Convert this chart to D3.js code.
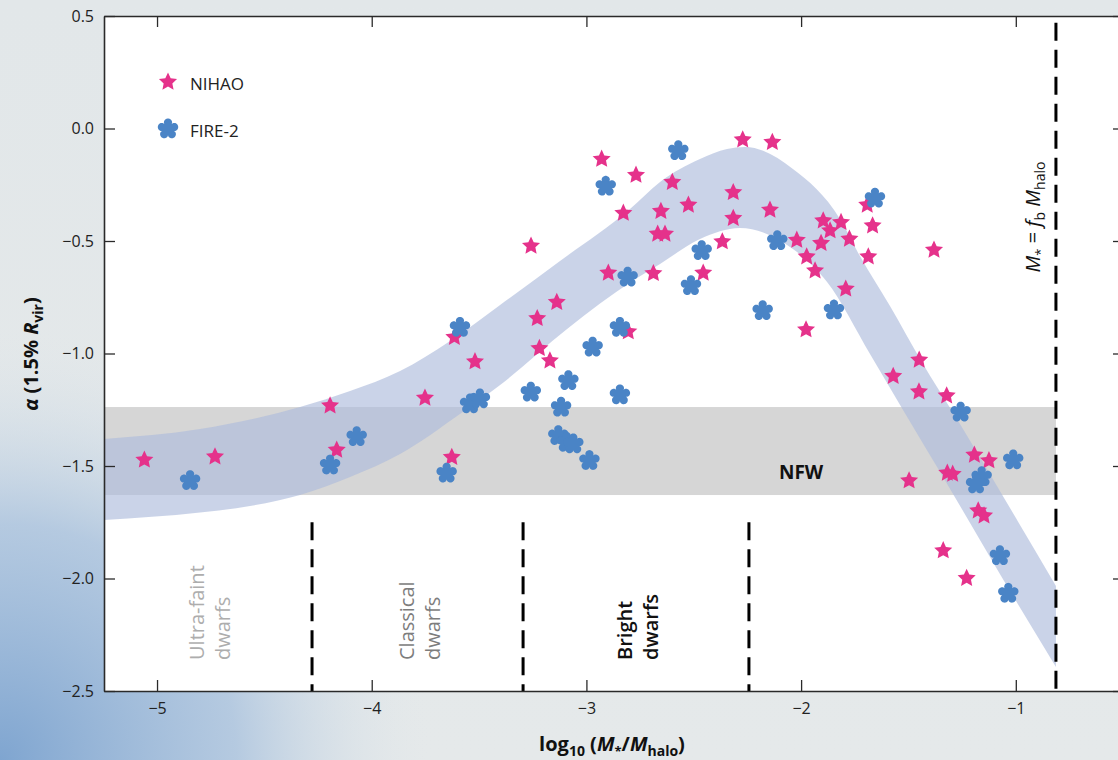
<!DOCTYPE html>
<html>
<head>
<meta charset="utf-8">
<script src="https://cdn.jsdelivr.net/npm/d3@7"></script>
<style>
  html, body { margin: 0; padding: 0; }
  body { width: 1118px; height: 760px; overflow: hidden; font-family: "Open Sans", sans-serif; }
</style>
</head>
<body>
<div id="chart"></div>
<script>
// data
const nihaoX = [-5.059, -4.730, -4.194, -4.163, -3.752, -3.615, -3.627, -3.519, -3.258, -3.229,
  -3.219, -3.170, -3.138, -2.929, -2.898, -2.828, -2.805, -2.769, -2.688, -2.668,
  -2.634, -2.653, -2.600, -2.525, -2.456, -2.367, -2.316, -2.316, -2.272, -2.134,
  -2.145, -2.020, -1.977, -1.974, -1.935, -1.907, -1.897, -1.865, -1.814, -1.775,
  -1.792, -1.692, -1.667, -1.687, -1.381, -1.571, -1.450, -1.451, -1.322, -1.497,
  -1.319, -1.294, -1.193, -1.125, -1.175, -1.148, -1.338, -1.229];
const nihaoY = [-1.473, -1.459, -1.232, -1.429, -1.198, -0.928, -1.461, -1.036, -0.522, -0.844,
  -0.977, -1.032, -0.772, -0.136, -0.642, -0.376, -0.903, -0.207, -0.644, -0.469,
  -0.469, -0.368, -0.239, -0.340, -0.642, -0.503, -0.399, -0.284, -0.050, -0.061,
  -0.362, -0.496, -0.894, -0.570, -0.632, -0.510, -0.410, -0.454, -0.417, -0.491,
  -0.713, -0.340, -0.432, -0.570, -0.540, -1.101, -1.029, -1.170, -1.188, -1.565,
  -1.531, -1.536, -1.451, -1.476, -1.699, -1.721, -1.876, -1.999];

const fireX = [-4.846, -4.194, -4.070, -3.651, -3.589, -3.542, -3.496, -3.259, -3.131, -3.118,
  -3.092, -3.061, -3.084, -2.986, -2.971, -2.910, -2.844, -2.844, -2.808, -2.572,
  -2.513, -2.463, -2.179, -2.111, -1.847, -1.656, -1.257, -1.159, -1.185, -1.012,
  -1.074, -1.035];
const fireY = [-1.565, -1.496, -1.370, -1.532, -0.884, -1.224, -1.202, -1.172, -1.365, -1.239,
  -1.395, -1.402, -1.121, -1.476, -0.972, -0.257, -0.884, -1.184, -0.661, -0.099,
  -0.699, -0.543, -0.810, -0.499, -0.807, -0.310, -1.261, -1.548, -1.580, -1.473,
  -1.899, -2.066];

// shaded trend band
const bandUpperX = [-5.247, -4.800, -4.334, -4.101, -3.868, -3.635, -3.402, -3.123, -2.797, -2.657,
  -2.471, -2.345, -2.261, -2.038, -1.819, -1.726, -1.586, -1.446, -1.260, -1.074, -0.813];
const bandUpperY = [-1.380, -1.336, -1.238, -1.167, -1.078, -0.944, -0.784, -0.589, -0.358, -0.238,
  -0.136, -0.091, -0.082, -0.180, -0.402, -0.567, -0.789, -1.024, -1.313, -1.611, -2.033];
const bandLowerX = [-5.247, -4.800, -4.567, -4.334, -4.101, -3.868, -3.589, -3.402, -3.090, -2.783,
  -2.657, -2.471, -2.285, -2.038, -1.879, -1.679, -1.539, -1.306, -1.074, -0.813];
const bandLowerY = [-1.740, -1.707, -1.678, -1.629, -1.549, -1.447, -1.269, -1.140, -0.891, -0.676,
  -0.602, -0.491, -0.442, -0.536, -0.682, -1.002, -1.229, -1.602, -1.980, -2.393];

const nfwRange = [-1.238, -1.629];
const regionBounds = [-4.278, -3.295, -2.243];
const fbLineX = -0.813;
const regionNames = [['Ultra-faint', 'dwarfs'], ['Classical', 'dwarfs'], ['Bright', 'dwarfs']];
const regionColors = ['#adadad', '#7d7d7d', '#111'];

const xTicks = [-5, -4, -3, -2, -1];
const yTicks = [0.5, 0.0, -0.5, -1.0, -1.5, -2.0, -2.5];
const xDomain = [-5.247, -0.496];
const yDomain = [-2.5, 0.5];

const width = 1118;
const height = 760;
const plot = { left: 104, right: 1124, top: 16, bottom: 691 };
const pink = '#e5328b';
const blue = '#4a84c6';

const svg = d3.select('#chart').append('svg')
  .attr('width', width)
  .attr('height', height)
  .style('display', 'block');

const defs = svg.append('defs');

// page background: pale grey with a blue wash in the lower left
const bg = defs.append('linearGradient').attr('id', 'bgLin')
  .attr('x1', '0%').attr('y1', '0%').attr('x2', '0%').attr('y2', '100%');
bg.append('stop').attr('offset', '0%').attr('stop-color', '#e2e7e9');
bg.append('stop').attr('offset', '100%').attr('stop-color', '#e5e9ea');

const wash = defs.append('radialGradient').attr('id', 'bgWash')
  .attr('gradientUnits', 'userSpaceOnUse')
  .attr('cx', 0).attr('cy', 760).attr('r', 430);
wash.append('stop').attr('offset', '0%').attr('stop-color', '#7fa5d0').attr('stop-opacity', 1);
wash.append('stop').attr('offset', '55%').attr('stop-color', '#a9c2de').attr('stop-opacity', 0.8);
wash.append('stop').attr('offset', '100%').attr('stop-color', '#dfe6ea').attr('stop-opacity', 0);

svg.append('rect').attr('width', width).attr('height', height).attr('fill', 'url(#bgLin)');
svg.append('rect').attr('width', width).attr('height', height).attr('fill', 'url(#bgWash)');

defs.append('clipPath').attr('id', 'plotClip')
  .append('rect')
  .attr('x', plot.left).attr('y', plot.top)
  .attr('width', plot.right - plot.left).attr('height', plot.bottom - plot.top);

const x = d3.scaleLinear().domain(xDomain).range([plot.left, plot.right]);
const y = d3.scaleLinear().domain(yDomain).range([plot.bottom, plot.top]);

// white plot area
svg.append('rect')
  .attr('x', plot.left).attr('y', plot.top)
  .attr('width', plot.right - plot.left).attr('height', plot.bottom - plot.top)
  .attr('fill', '#fff');

const inner = svg.append('g').attr('clip-path', 'url(#plotClip)');

// NFW band
inner.append('rect')
  .attr('x', plot.left)
  .attr('y', y(nfwRange[0]))
  .attr('width', x(fbLineX) - plot.left)
  .attr('height', y(nfwRange[1]) - y(nfwRange[0]))
  .attr('fill', '#d6d6d6');

// trend band: upper edge left to right, then lower edge back
const bandLine = d3.line()
  .x((d) => x(d[0]))
  .y((d) => y(d[1]))
  .curve(d3.curveMonotoneX);
const upperPts = bandUpperX.map((v, i) => [v, bandUpperY[i]]);
const lowerPts = bandLowerX.map((v, i) => [v, bandLowerY[i]]).reverse();
const bandPath = bandLine(upperPts) + 'L' + bandLine(lowerPts).slice(1) + 'Z';
inner.append('path')
  .attr('d', bandPath)
  .attr('fill', '#aebcdc')
  .attr('fill-opacity', 0.65);

inner.append('text')
  .attr('x', x(-2.0))
  .attr('y', y(-1.5) + 13)
  .attr('text-anchor', 'middle')
  .attr('font-size', 19)
  .attr('font-weight', 'bold')
  .attr('fill', '#111')
  .text('NFW');

// dashed boundaries
regionBounds.forEach((b) => {
  inner.append('line')
    .attr('x1', x(b)).attr('x2', x(b))
    .attr('y1', y(-1.75)).attr('y2', y(-2.5))
    .attr('stroke', '#000')
    .attr('stroke-width', 3)
    .attr('stroke-dasharray', '18,9');
});
inner.append('line')
  .attr('x1', x(fbLineX)).attr('x2', x(fbLineX))
  .attr('y1', y(0.47)).attr('y2', y(-2.5))
  .attr('stroke', '#000')
  .attr('stroke-width', 3)
  .attr('stroke-dasharray', '18,9');

// region labels, rotated, two lines each
const edges = [xDomain[0]].concat(regionBounds);
regionNames.forEach((lines, i) => {
  const cx = x((edges[i] + edges[i + 1]) / 2);
  const t = inner.append('text')
    .attr('transform', `translate(${cx},660) rotate(-90)`)
    .attr('font-size', 20)
    .attr('fill', regionColors[i])
    .attr('font-weight', i === 2 ? 600 : 400);
  lines.forEach((ln, j) => {
    t.append('tspan')
      .attr('x', 0)
      .attr('y', j === 0 ? -4 : 22)
      .text(ln);
  });
});

// M* = fb Mhalo label
const fbText = inner.append('text')
  .attr('transform', `translate(${x(fbLineX) - 16},217) rotate(-90)`)
  .attr('text-anchor', 'middle')
  .attr('font-size', 20)
  .attr('fill', '#111');
fbText.append('tspan').attr('font-style', 'italic').text('M');
fbText.append('tspan').attr('font-size', 13).attr('dy', 5).text('*');
fbText.append('tspan').attr('dy', -5).text(' = ');
fbText.append('tspan').attr('font-style', 'italic').text('f');
fbText.append('tspan').attr('font-size', 14).attr('dy', 5).text('b');
fbText.append('tspan').attr('dy', -5).attr('font-style', 'italic').text(' M');
fbText.append('tspan').attr('font-size', 14).attr('dy', 5).text('halo');

// marker shapes
function starPath(R, k) {
  const pts = [];
  for (let i = 0; i < 10; i++) {
    const a = -Math.PI / 2 + (i * Math.PI) / 5;
    const r = i % 2 === 0 ? R : R * k;
    pts.push([r * Math.cos(a), r * Math.sin(a)]);
  }
  return 'M' + pts.map((p) => p[0].toFixed(2) + ',' + p[1].toFixed(2)).join('L') + 'Z';
}
function flowerPath(R) {
  const pts = [];
  for (let i = 0; i < 120; i++) {
    const t = (i / 120) * 2 * Math.PI;
    const r = R * (0.6 + 0.4 * Math.pow(Math.abs(Math.cos(2.5 * t)), 0.6));
    const a = -Math.PI / 2 + t;
    pts.push([r * Math.cos(a), r * Math.sin(a)]);
  }
  return 'M' + pts.map((p) => p[0].toFixed(2) + ',' + p[1].toFixed(2)).join('L') + 'Z';
}
const pinkShape = starPath(9.5, 0.48);
const blueShape = flowerPath(10.5);

svg.append('g')
  .selectAll('path')
  .data(nihaoX.map((v, i) => [v, nihaoY[i]]))
  .join('path')
  .attr('d', pinkShape)
  .attr('transform', (d) => `translate(${x(d[0])},${y(d[1])})`)
  .attr('fill', pink);

svg.append('g')
  .selectAll('path')
  .data(fireX.map((v, i) => [v, fireY[i]]))
  .join('path')
  .attr('d', blueShape)
  .attr('transform', (d) => `translate(${x(d[0])},${y(d[1])})`)
  .attr('fill', blue);

// axes (ticks inward on all four sides)
const fmt = (d) => (d < 0 ? '\u2212' : '') + Math.abs(d).toFixed(1);
const fmtX = (d) => (d < 0 ? '\u2212' : '') + Math.abs(d);

const leftAxis = svg.append('g')
  .attr('transform', `translate(${plot.left},0)`)
  .call(d3.axisLeft(y).tickValues(yTicks).tickFormat(fmt).tickSize(-11).tickSizeOuter(0).tickPadding(10));
const bottomAxis = svg.append('g')
  .attr('transform', `translate(0,${plot.bottom})`)
  .call(d3.axisBottom(x).tickValues(xTicks).tickFormat(fmtX).tickSize(-11).tickSizeOuter(0).tickPadding(12));
const topAxis = svg.append('g')
  .attr('transform', `translate(0,${plot.top})`)
  .call(d3.axisTop(x).tickValues(xTicks).tickFormat('').tickSize(-11).tickSizeOuter(0));
const rightAxis = svg.append('g')
  .attr('transform', `translate(${plot.right},0)`)
  .call(d3.axisRight(y).tickValues(yTicks).tickFormat('').tickSize(-11).tickSizeOuter(0));

[leftAxis, bottomAxis, topAxis, rightAxis].forEach((g) => {
  g.select('.domain').attr('stroke', '#2a2a2a').attr('stroke-width', 1.6);
  g.selectAll('.tick line').attr('stroke', '#2a2a2a').attr('stroke-width', 1.3);
  g.selectAll('.tick text')
    .attr('font-family', '"Open Sans", sans-serif')
    .attr('font-size', 16)
    .attr('fill', '#222');
});

// axis titles
const xTitle = svg.append('text')
  .attr('x', 612)
  .attr('y', 751)
  .attr('text-anchor', 'middle')
  .attr('font-size', 20)
  .attr('font-weight', 'bold')
  .attr('fill', '#111');
xTitle.append('tspan').text('log');
xTitle.append('tspan').attr('font-size', 14).attr('dy', 5).text('10');
xTitle.append('tspan').attr('dy', -5).text(' (');
xTitle.append('tspan').attr('font-style', 'italic').text('M');
xTitle.append('tspan').attr('font-size', 13).attr('dy', 5).text('*');
xTitle.append('tspan').attr('dy', -5).text('/');
xTitle.append('tspan').attr('font-style', 'italic').text('M');
xTitle.append('tspan').attr('font-size', 14).attr('dy', 5).text('halo');
xTitle.append('tspan').attr('dy', -5).text(')');

const yTitle = svg.append('text')
  .attr('transform', 'translate(38,354) rotate(-90)')
  .attr('text-anchor', 'middle')
  .attr('font-size', 20)
  .attr('font-weight', 'bold')
  .attr('fill', '#111');
yTitle.append('tspan').attr('font-style', 'italic').text('\u03b1');
yTitle.append('tspan').text(' (1.5% ');
yTitle.append('tspan').attr('font-style', 'italic').text('R');
yTitle.append('tspan').attr('font-size', 14).attr('dy', 5).text('vir');
yTitle.append('tspan').attr('dy', -5).text(')');

// legend
const legend = svg.append('g').attr('transform', 'translate(168,82)');
legend.append('path').attr('d', pinkShape).attr('fill', pink);
legend.append('text').attr('x', 22).attr('y', 8).attr('font-size', 17).attr('fill', '#222').text('NIHAO');
legend.append('path').attr('d', blueShape).attr('transform', 'translate(0,47)').attr('fill', blue);
legend.append('text').attr('x', 22).attr('y', 55).attr('font-size', 17).attr('fill', '#222').text('FIRE-2');
</script>
</body>
</html>
